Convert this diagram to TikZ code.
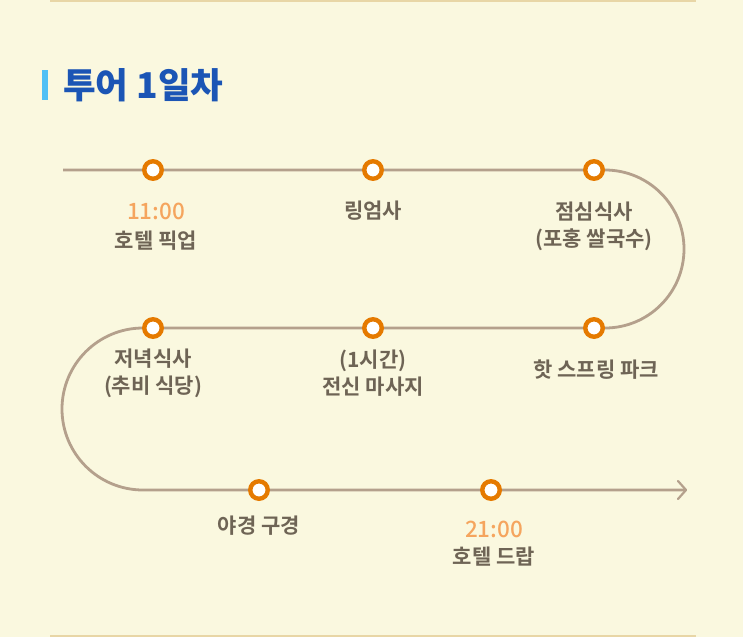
\documentclass[tikz,border=0pt]{standalone}
\usepackage{fontspec}
\newfontfamily\kr{Noto Sans CJK KR Bold}
\newfontfamily\krm{Noto Sans CJK KR Medium}
\newfontfamily\krb{Noto Sans CJK KR Black}
\definecolor{bg}{HTML}{FAF8DF}
\definecolor{rule}{HTML}{E8D6A6}
\definecolor{track}{HTML}{B4A08C}
\definecolor{ring}{HTML}{E57A00}
\definecolor{timec}{HTML}{F5A55E}
\definecolor{labelc}{HTML}{6E6455}
\definecolor{titlec}{HTML}{1B55B5}
\definecolor{barc}{HTML}{4FC0F5}
\tikzset{
  stop/.style={circle,draw=ring,line width=4.4pt,fill=white,minimum size=17.5pt,inner sep=0pt},
  trackline/.style={draw=track,line width=2.8pt},
  lbl/.style={text=labelc,font=\kr\fontsize{21}{25}\selectfont,align=center,inner sep=0pt},
  tm/.style={text=timec,font=\krm\fontsize{22.5}{25}\selectfont,inner sep=0pt},
}
\begin{document}
\begin{tikzpicture}[x=1pt,y=-1pt]
\fill[bg] (0,0) rectangle (743,637);
\useasboundingbox (0,0) rectangle (743,637);
\draw[rule,line width=2pt] (50,1) -- (696,1);
\draw[rule,line width=2pt] (50,636) -- (696,636);
% title
\fill[barc] (42,70) rectangle (48,100);
\node[anchor=west,text=titlec,font=\krb\fontsize{35.5}{38}\selectfont,inner sep=0pt] (title) at (63,85) {투어 1일차};
% track
\coordinate (s) at (63,170);
\coordinate (r1) at (605,170);
\coordinate (r2) at (605,328);
\coordinate (l2) at (143,328);
\coordinate (l3) at (143,490);
\coordinate (e) at (686,490);
\draw[trackline] (s) -- (r1) arc[start angle=-90,end angle=90,radius=79] -- (l2) arc[start angle=270,end angle=90,radius=81] -- (e);
\draw[track,line width=2.2pt,line cap=round,line join=round] (678,481) -- (e) -- (678,499);
% stops
\node[stop] (a1) at (153,170) {};
\node[stop] (a2) at (373,170) {};
\node[stop] (a3) at (594,170) {};
\node[stop] (b1) at (153,328) {};
\node[stop] (b2) at (373,328) {};
\node[stop] (b3) at (594,328) {};
\node[stop] (c1) at (259,490) {};
\node[stop] (c2) at (491,490) {};
% labels
\node[tm] (t1) at (156,211) {11:00};
\node[lbl] (l1) at (156,241) {호텔 픽업};
\node[lbl] (lb2) at (373,211) {링엄사};
\node[lbl] (lb3) at (594,226) {점심식사\\[2pt](포홍 쌀국수)};
\node[lbl] (lb4) at (153,373) {저녁식사\\[2pt](추비 식당)};
\node[lbl] (lb5) at (373,373) {(1시간)\\[2pt]전신 마사지};
\node[lbl] (lb6) at (596,370) {핫 스프링 파크};
\node[lbl] (lb7) at (259,526) {야경 구경};
\node[tm] (t2) at (494,529) {21:00};
\node[lbl] (lb8) at (494,557) {호텔 드랍};
\end{tikzpicture}
\end{document}
